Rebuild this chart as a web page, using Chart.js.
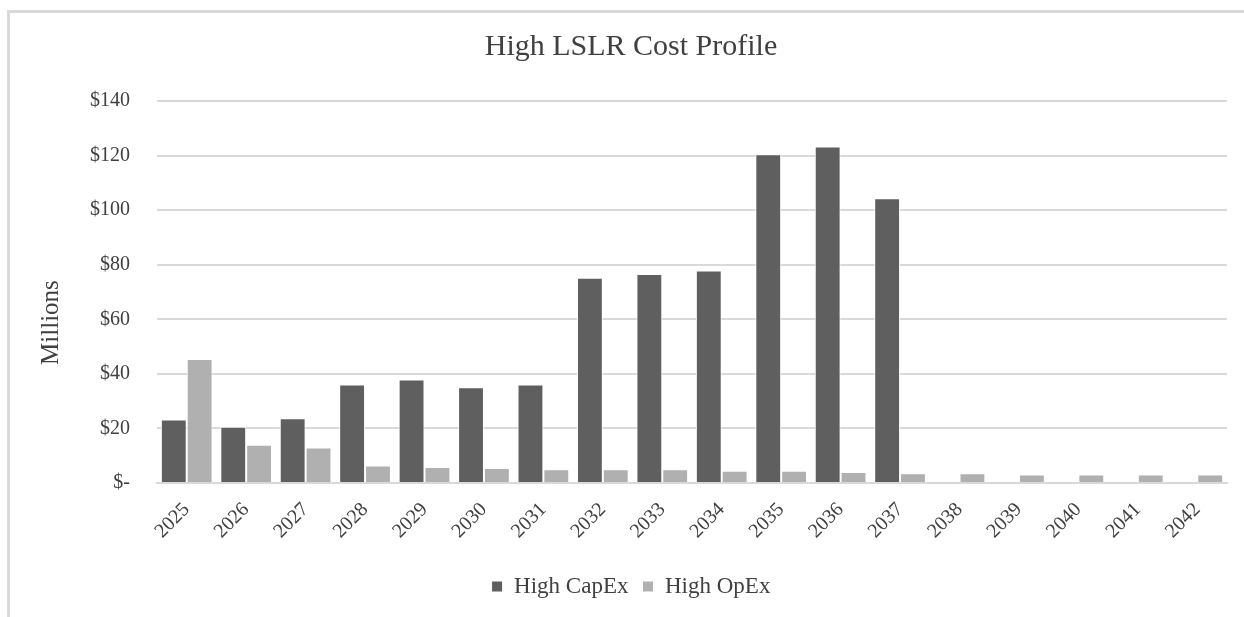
<!DOCTYPE html>
<html>
<head>
<meta charset="utf-8">
<script src="https://cdn.jsdelivr.net/npm/chart.js@4"></script>
<style>
  html, body { margin: 0; padding: 0; background: #fff; overflow: hidden; }
  #frame {
    position: absolute; left: 7px; top: 10px;
    width: 1400px; height: 800px;
    border: 3px solid #d9d9d9;
  }
  #chart { position: absolute; left: 0; top: 0; }
</style>
</head>
<body>
<div id="frame"></div>
<canvas id="chart" width="1244" height="617"></canvas>
<script>
const years = ['2025', '2026', '2027', '2028', '2029', '2030', '2031', '2032', '2033',
               '2034', '2035', '2036', '2037', '2038', '2039', '2040', '2041', '2042'];
// millions of dollars
const capex = [23.3, 20.6, 23.7, 36.1, 37.9, 35.1, 36.1, 75.2, 76.6,
               77.9, 120.5, 123.3, 104.4, 0, 0, 0, 0, 0];
const opex  = [45.4, 14.0, 13.0, 6.4, 5.9, 5.5, 5.0, 5.0, 5.0,
               4.5, 4.5, 4.0, 3.6, 3.6, 3.1, 3.1, 3.1, 3.1];
const yTicks = [0, 20, 40, 60, 80, 100, 120, 140];
const yTitle = 'Millions';

const serif = '"Liberation Serif", "Times New Roman", serif';
const textColor = '#404040';
const gridColor = '#d9d9d9';

// the axis title sits a bit below the middle of the plot in the original,
// so it is drawn here instead of through scale.title
const yTitlePlugin = {
    id: 'yTitle',
    afterDraw(c) {
        const a = c.chartArea;
        const g = c.ctx;
        g.save();
        g.translate(51, a.top + (a.bottom - a.top) * 0.58);
        g.rotate(-Math.PI / 2);
        g.fillStyle = textColor;
        g.font = '25px ' + serif;
        g.textAlign = 'center';
        g.textBaseline = 'middle';
        g.fillText(yTitle, 0, 0);
        g.restore();
    }
};

const ctx = document.getElementById('chart').getContext('2d');

const chart = new Chart(ctx, {
    type: 'bar',
    data: {
        labels: years,
        datasets: [{
            label: 'High CapEx',
            data: capex,
            backgroundColor: '#5f5f5f',
            borderColor: '#ffffff',
            borderWidth: 1,
        }, {
            label: 'High OpEx',
            data: opex,
            backgroundColor: '#b0b0b0',
            borderColor: '#ffffff',
            borderWidth: 1,
        }]
    },
    plugins: [yTitlePlugin],
    options: {
        responsive: false,
        animation: false,
        datasets: {
            bar: { barPercentage: 1, categoryPercentage: 0.87 }
        },
        layout: {
            padding: { left: 35, right: 17, top: 0, bottom: 9 }
        },
        plugins: {
            title: {
                display: true,
                text: 'High LSLR Cost Profile',
                color: textColor,
                font: { family: serif, size: 30, weight: 'normal' },
                padding: { top: 29, bottom: 36 }
            },
            legend: {
                position: 'bottom',
                labels: {
                    color: textColor,
                    font: { family: serif, size: 23 },
                    boxWidth: 11,
                    boxHeight: 11,
                    padding: 14
                }
            },
            tooltip: { enabled: false }
        },
        scales: {
            x: {
                grid: { display: false, drawTicks: false },
                border: { display: true, color: gridColor, width: 2 },
                ticks: {
                    color: textColor,
                    font: { family: serif, size: 20 },
                    minRotation: 45,
                    maxRotation: 45,
                    padding: 15
                },
                afterFit: s => { s.height = 78; }
            },
            y: {
                min: 0,
                max: 140,
                afterBuildTicks: s => { s.ticks = yTicks.map(v => ({ value: v })); },
                grid: { color: gridColor, lineWidth: 2, drawTicks: false },
                border: { display: false },
                ticks: {
                    color: textColor,
                    font: { family: serif, size: 20 },
                    padding: 27,
                    callback: v => v === 0 ? '$-' : '$' + v
                },
                afterFit: s => { s.width = 122; }
            }
        }
    }
});
</script>
</body>
</html>
